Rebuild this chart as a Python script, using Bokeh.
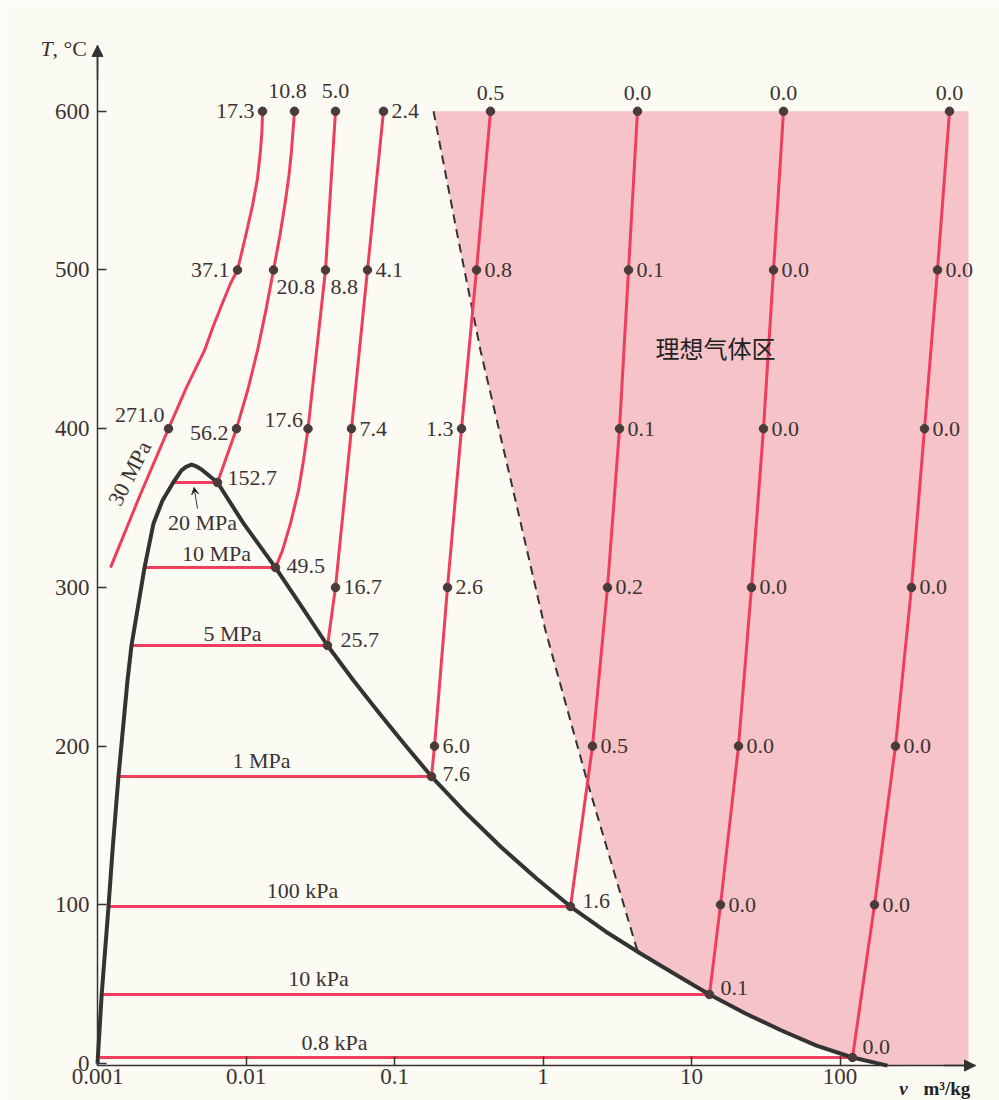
from bokeh.plotting import figure
from bokeh.models import (Range1d, FixedTicker, ColumnDataSource, Arrow, NormalHead, VeeHead,
                          LogAxis, LinearAxis)
from bokeh.core.properties import value
from bokeh.embed import file_html
from bokeh.resources import INLINE

# ---------------- data ----------------
x_ticks = [0.001, 0.01, 0.1, 1, 10, 100]
x_tick_labels = ["0.001", "0.01", "0.1", "1", "10", "100"]
y_ticks = [0, 100, 200, 300, 400, 500, 600]
v_axis_end = 817.6
T_axis_top = 641.5
T_axis_base = -1.3

# saturation dome (liquid branch up to critical point, then vapour branch)
dome_liq_v = [0.001, 0.001067, 0.001186, 0.001262, 0.001384, 0.001592, 0.001694,
              0.002073, 0.002383, 0.002740, 0.003234, 0.003678, 0.003944, 0.004295]
dome_liq_T = [0, 43.5, 98.9, 134.2, 180.8, 241.3, 263.4, 312.5, 340.3, 354.8, 366.1, 373.7, 375.9, 377.4]
dome_vap_v = [0.004295, 0.004642, 0.00502, 0.006427, 0.009621, 0.01580, 0.02364, 0.03538,
              0.05295, 0.07925, 0.1186, 0.1775, 0.3054, 0.5255, 0.9042, 1.532, 2.636,
              4.536, 7.804, 13.22, 23.10, 40.37, 69.47, 121.4, 208.9]
dome_vap_T = [377.4, 376.2, 374.3, 366.1, 340.3, 312.5, 288.0, 263.4,
              241.3, 220.5, 200.4, 180.8, 157.5, 136.1, 116.6, 98.9, 83.2,
              69.3, 56.1, 43.5, 31.5, 20.8, 11.3, 3.8, -1.9]

# dashed boundary of the ideal-gas region
dash_v = [0.1831, 0.2616, 0.3794, 0.6529, 1.0395, 1.994, 4.328]
dash_T = [600, 524.9, 449.3, 354.8, 272.8, 177.1, 70.8]
ideal_right_v = 733

iso_names = ["30 MPa", "20 MPa", "10 MPa", "5 MPa", "1 MPa", "100 kPa", "10 kPa", "0.8 kPa"]
# horizontal saturation segments: T_sat, v_f, v_g
sat_T = [None, 366.1, 312.5, 263.4, 180.8, 98.9, 43.5, 3.8]
sat_vf = [None, 0.003234, 0.002073, 0.001694, 0.001384, 0.001186, 0.001067, 0.00104]
sat_vg = [None, 0.006427, 0.01580, 0.03538, 0.1775, 1.532, 13.22, 121.4]

# isobar curves beyond saturation
c30_v = [0.001223, 0.001918, 0.003007, 0.003974, 0.005254, 0.006041, 0.007056, 0.007862,
         0.008767, 0.009922, 0.01106, 0.01195, 0.01252, 0.01282, 0.01292]
c30_T = [312.5, 357.3, 400, 426, 449.3, 465, 480.8, 491.5,
         500, 521.1, 540.6, 557.7, 575.3, 587.9, 600]
c20_v = [0.006427, 0.008630, 0.01032, 0.01195, 0.01364, 0.01532, 0.01694, 0.01845,
         0.01949, 0.02025, 0.02121]
c20_T = [366.1, 400, 425, 449.3, 475, 500, 522, 543.8, 560, 575.3, 600]
c10_v = [0.01580, 0.01761, 0.01994, 0.02257, 0.02439, 0.02616, 0.03430, 0.04006]
c10_T = [312.5, 323.3, 340.3, 361.1, 380, 400, 500, 600]
c5_v = [0.03538, 0.04006, 0.05133, 0.06578, 0.08431]
c5_T = [263.4, 300, 400, 500, 600]
c1_v = [0.1775, 0.1860, 0.2275, 0.2827, 0.3566, 0.4431]
c1_T = [180.8, 200, 300, 400, 500, 600]
c01_v = [1.532, 2.154, 2.719, 3.275, 3.766, 4.329]
c01_T = [98.9, 200, 300, 400, 500, 600]
c001_v = [13.22, 15.68, 20.73, 25.35, 30.53, 35.67, 41.65]
c001_T = [43.5, 100, 200, 300, 400, 500, 600]
c0008_v = [121.4, 170.8, 236.4, 303.0, 370.7, 453.5, 546.3]
c0008_T = [3.8, 100, 200, 300, 400, 500, 600]

# marked states and their ideal-gas error (%)
p30_v = [0.003007, 0.008767, 0.01292]; p30_T = [400, 500, 600]; e30 = ["271.0", "37.1", "17.3"]
p20_v = [0.006427, 0.008630, 0.01532, 0.02121]; p20_T = [366.1, 400, 500, 600]; e20 = ["152.7", "56.2", "20.8", "10.8"]
p10_v = [0.01580, 0.02616, 0.03430, 0.04006]; p10_T = [312.5, 400, 500, 600]; e10 = ["49.5", "17.6", "8.8", "5.0"]
p5_v = c5_v; p5_T = c5_T; e5 = ["25.7", "16.7", "7.4", "4.1", "2.4"]
p1_v = c1_v; p1_T = c1_T; e1 = ["7.6", "6.0", "2.6", "1.3", "0.8", "0.5"]
p01_v = c01_v; p01_T = c01_T; e01 = ["1.6", "0.5", "0.2", "0.1", "0.1", "0.0"]
p001_v = c001_v; p001_T = c001_T; e001 = ["0.1", "0.0", "0.0", "0.0", "0.0", "0.0", "0.0"]
p0008_v = c0008_v; p0008_T = c0008_T; e0008 = ["0.0", "0.0", "0.0", "0.0", "0.0", "0.0", "0.0"]

# ---------------- styling ----------------
BG = "#fcfbf3"
PINK = "#f5c3c8"
RED = "#ef3e5c"
DOT = "#4a3a3a"
INK = "#333333"
TXT = "#3a3333"
SERIF = "Liberation Serif"
FS = "22px"

# label placement (screen offsets, alignment) per marked state
R = (8, 0, "left"); L = (-8, 0, "right"); A = (0, -18, "center")
place30 = [(-4, -14, "right"), L, L]
place20 = [(10, -4, "left"), (-8, 4, "right"), (3, 17, "left"), (-7, -20, "center")]
place10 = [(11, -2, "left"), (-5, -9, "right"), (5, 17, "left"), (0, -20, "center")]
place5 = [(13, -5, "left"), R, R, R, R]
place1 = [(11, -3, "left"), R, R, L, R, A]
place01 = [(12, -6, "left"), R, R, R, R, A]
place001 = [(11, -6, "left"), R, R, R, R, R, A]
place0008 = [(10, -10, "left"), R, R, R, R, R, A]

# isobar name labels: position and angle (deg)
name_v = [0.001642, 0.005094, 0.006328, 0.008111, 0.01272, 0.02401, 0.03077, 0.03945]
name_T = [371.8, 340.9, 321.4, 271.0, 190.9, 109.0, 53.6, 13.2]
name_angle = [63, 0, 0, 0, 0, 0, 0, 0]

p = figure(width=999, height=1100, x_axis_type="log",
           x_range=Range1d(0.0002222, 1186.0), y_range=Range1d(-23.3, 669.8),
           x_axis_location=None, y_axis_location=None,
           output_backend="svg", toolbar_location=None,
           min_border_left=0, min_border_right=0, min_border_top=0, min_border_bottom=0,
           background_fill_color=BG, border_fill_color=BG, outline_line_color=None)
p.grid.visible = False

# ideal gas region
tail = [(v, T) for v, T in zip(dome_vap_v, dome_vap_T) if v > dash_v[-1]]
ideal_v = dash_v + [q[0] for q in tail] + [ideal_right_v, ideal_right_v]
ideal_T = dash_T + [q[1] for q in tail] + [T_axis_base, 600]
p.patch(ideal_v, ideal_T, fill_color=PINK, line_color=None)
p.line(dash_v, dash_T, line_color=INK, line_width=2, line_dash="9 6")

# isobars
curves = [(c30_v, c30_T), (c20_v, c20_T), (c10_v, c10_T), (c5_v, c5_T),
          (c1_v, c1_T), (c01_v, c01_T), (c001_v, c001_T), (c0008_v, c0008_T)]
for i, (cv, cT) in enumerate(curves):
    p.line(cv, cT, line_color=RED, line_width=3, line_join="round")
    if sat_T[i] is not None:
        p.line([sat_vf[i], sat_vg[i]], [sat_T[i], sat_T[i]], line_color=RED, line_width=3)

# saturation dome (clipped at the v axis)
dome_v = dome_liq_v + dome_vap_v[1:]
dome_T = dome_liq_T + dome_vap_T[1:]
dome_T = [max(T, T_axis_base) for T in dome_T]
p.line(dome_v, dome_T, line_color=INK, line_width=4, line_join="round")

# marked states and labels
pts = [(p30_v, p30_T, e30, place30), (p20_v, p20_T, e20, place20), (p10_v, p10_T, e10, place10),
       (p5_v, p5_T, e5, place5), (p1_v, p1_T, e1, place1), (p01_v, p01_T, e01, place01),
       (p001_v, p001_T, e001, place001), (p0008_v, p0008_T, e0008, place0008)]
for pv, pT, pe, pl in pts:
    src = ColumnDataSource(dict(x=pv, y=pT, t=pe, dx=[q[0] for q in pl], dy=[q[1] for q in pl],
                                al=[q[2] for q in pl]))
    p.scatter("x", "y", source=src, size=8.5, fill_color=DOT, line_color=DOT)
    p.text("x", "y", text="t", source=src, x_offset="dx", y_offset="dy", text_align="al",
           text_baseline="middle", text_font=value(SERIF), text_font_size=FS, text_color=TXT)

nsrc = ColumnDataSource(dict(x=name_v, y=name_T, t=iso_names, a=[d * 3.14159265 / 180 for d in name_angle]))
p.text("x", "y", text="t", angle="a", source=nsrc, text_align="center", text_baseline="middle",
       text_font=value(SERIF), text_font_size=FS, text_color=TXT)

# arrow to 20 MPa line
p.add_layout(Arrow(end=VeeHead(size=7, line_color=INK, line_width=1), x_start=0.004715, y_start=349.7,
                   x_end=0.004466, y_end=363.0, line_color=INK, line_width=1))

p.text([14.51], [451.2], text=["理想气体区"], text_align="center", text_baseline="middle",
       text_font=value("Noto Sans CJK SC"), text_font_size="24px", text_color="#222222")

# axes
xax = LogAxis(fixed_location=T_axis_base, bounds=(x_ticks[0], v_axis_end),
              ticker=FixedTicker(ticks=x_ticks),
              major_label_overrides={t: s for t, s in zip(x_ticks, x_tick_labels)})
yax = LinearAxis(fixed_location=x_ticks[0], bounds=(T_axis_base, T_axis_top),
                 ticker=FixedTicker(ticks=y_ticks))
for ax in (xax, yax):
    ax.axis_line_color = INK
    ax.axis_line_width = 1.5
    ax.major_tick_line_color = INK
    ax.major_tick_line_width = 1.5
    ax.major_tick_in = 9
    ax.major_tick_out = 0
    ax.minor_tick_line_color = None
    ax.major_label_text_font = SERIF
    ax.major_label_text_font_size = "23px"
    ax.major_label_text_color = TXT
xax.major_label_standoff = 3
yax.major_label_standoff = 8
p.add_layout(xax, "below")
p.add_layout(yax, "left")

p.add_layout(Arrow(end=NormalHead(size=11, fill_color=INK, line_color=INK), x_start=x_ticks[0], y_start=620,
                   x_end=x_ticks[0], y_end=T_axis_top, line_color=INK, line_width=1.5))
p.add_layout(Arrow(end=NormalHead(size=11, fill_color=INK, line_color=INK), x_start=500, y_start=T_axis_base,
                   x_end=v_axis_end, y_end=T_axis_base, line_color=INK, line_width=1.5))

# axis titles
p.text([0.000413], [639.6], text=["T"], text_align="left", text_baseline="middle",
       text_font=value(SERIF), text_font_style="italic", text_font_size="22px", text_color=TXT)
p.text([0.000497], [639.6], text=[", °C"], text_align="left", text_baseline="middle",
       text_font=value(SERIF), text_font_size="22px", text_color=TXT)
p.text([267.7], [-15.8], text=["v"], text_align="center", text_baseline="middle",
       text_font=value(SERIF), text_font_style="bold italic", text_font_size="19px", text_color="#222222")
p.text([365.0], [-15.8], text=["m³/kg"], text_align="left", text_baseline="middle",
       text_font=value(SERIF), text_font_style="bold", text_font_size="19px", text_color="#222222")

open("out.html", "w").write(file_html(p, INLINE))
